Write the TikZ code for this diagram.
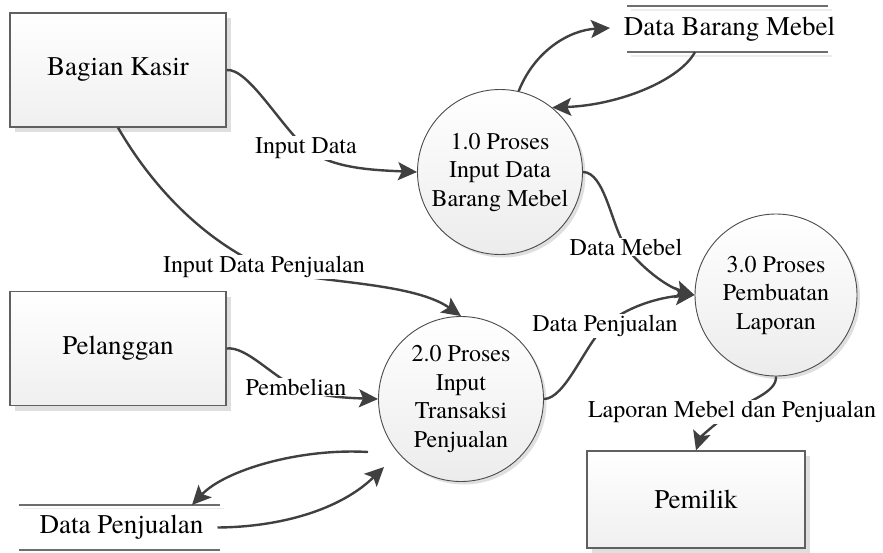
\documentclass[tikz,border=0pt]{standalone}
\usepackage{fontspec}
\setmainfont{texgyretermes}[Extension=.otf, UprightFont=*-regular, BoldFont=*-bold, ItalicFont=*-italic, BoldItalicFont=*-bolditalic]
\usetikzlibrary{arrows.meta,shadows,calc}
\definecolor{lineC}{HTML}{404040}
\definecolor{boxB}{HTML}{606060}
\definecolor{storeC}{HTML}{6E6E6E}
\begin{document}
\begin{tikzpicture}[x=1pt,y=-1pt,
  entity/.style={draw=boxB, line width=1.2pt, top color=white, bottom color=gray!12,
    minimum width=216pt, minimum height=114pt, inner sep=0pt,
    font=\fontsize{27}{32}\selectfont,
    drop shadow={shadow xshift=5pt, shadow yshift=-5pt, fill=gray!25, opacity=1}},
  process/.style={circle, draw=gray!60!black, line width=0.9pt, top color=white, bottom color=gray!15,
    minimum size=165pt, inner sep=0pt, align=center,
    font=\fontsize{24}{28.5}\selectfont,
    drop shadow={shadow xshift=3pt, shadow yshift=-3pt, fill=gray!25, opacity=1}},
  store/.style={inner sep=0pt, font=\fontsize{27}{32}\selectfont},
  storeline/.style={draw=storeC, line width=1.4pt},
  storeshade/.style={draw=gray!15, line width=1.2pt},
  flow/.style={draw=lineC, line width=2.4pt, -{Stealth[length=19pt,width=18pt,inset=4pt]}},
  flowlabel/.style={fill=white, inner sep=1pt, font=\fontsize{24}{28}\selectfont},
]
\useasboundingbox (0,0) rectangle (883,552);

% entities
\node[entity] (kasir) at (118,70) {Bagian Kasir};
\node[entity] (pelanggan) at (118,348.5) {Pelanggan};
\node[entity, minimum width=218pt, minimum height=97pt] (pemilik) at (696,499.5) {Pemilik};

% processes
\node[process] (p1) at (500,172) {1.0 Proses\\Input Data\\Barang Mebel};
\node[process] (p2) at (461,399) {2.0 Proses\\Input\\Transaksi\\Penjualan};
\node[process, minimum size=162pt] (p3) at (776,295) {3.0 Proses\\Pembuatan\\Laporan};

% data stores
\node[store] (dbm) at (729.5,29) {Data Barang Mebel};
\node[store] (dp) at (121.5,527.5) {Data Penjualan};
\draw[storeshade] ($(dbm.center)+(-99,27)$) -- ($(dbm.center)+(102,27)$);
\draw[storeshade] ($(dbm.center)+(-99,-19)$) -- ($(dbm.center)+(102,-19)$);
\draw[storeline] ($(dbm.center)+(-103,-23)$) -- ($(dbm.center)+(98,-23)$);
\draw[storeline] ($(dbm.center)+(-103,23)$) -- ($(dbm.center)+(98,23)$);
\draw[storeshade] ($(dp.center)+(-99,-19)$) -- ($(dp.center)+(102,-19)$);
\draw[storeline] ($(dp.center)+(-103,-22.5)$) -- ($(dp.center)+(98,-22.5)$);
\draw[storeline] ($(dp.center)+(-103,22.5)$) -- ($(dp.center)+(98,22.5)$);

% flows
\draw[flow] (kasir.east) .. controls (248,68) and (280,125) .. (306,148)
  node[flowlabel] (lInput) {Input Data}
  .. controls (330,168) and (370,170) .. (p1.west);

\draw[flow] (kasir.south) .. controls (160,200) and (215,245) .. (264,267)
  node[flowlabel] (lInputPj) {Input Data Penjualan}
  .. controls (300,283) and (410,280) .. (p2.north);

\draw[flow] (pelanggan.east) .. controls (246,346) and (272,376) .. (296,387)
  node[flowlabel] (lBeli) {Pembelian}
  .. controls (318,397) and (350,398) .. (p2.west);

\draw[flow] (p1.77) .. controls (535,50) and (570,30) .. ($(dbm.center)+(-119.5,-1)$);
\draw[flow] ($(dbm.center)+(-34.5,23)$) .. controls (680,80) and (620,105) .. (p1.51);

\draw[flow] ($(p2.center)+(-93,53)$) .. controls (300,448) and (225,470) .. ($(dp.center)+(70.5,-22.5)$);
\draw[flow] ($(dp.center)+(96,0)$) .. controls (280,527) and (340,510) .. ($(p2.center)+(-77,68)$);

\draw[flow] (p1.east) .. controls (605,172) and (612,228) .. (626,247)
  node[flowlabel] (lMebel) {Data Mebel}
  .. controls (640,266) and (665,286) .. (p3.west);

\draw[flow] (p2.east) .. controls (565,399) and (585,345) .. (605,326)
  node[flowlabel] (lPenj) {Data Penjualan}
  .. controls (625,307) and (660,297) .. (p3.west);

\draw[flow] (p3.south) .. controls (777,392) and (750,400) .. (732,412)
  node[flowlabel] (lLap) {Laporan Mebel dan Penjualan}
  .. controls (714,424) and (700,438) .. (pemilik.north);
\end{tikzpicture}
\end{document}
